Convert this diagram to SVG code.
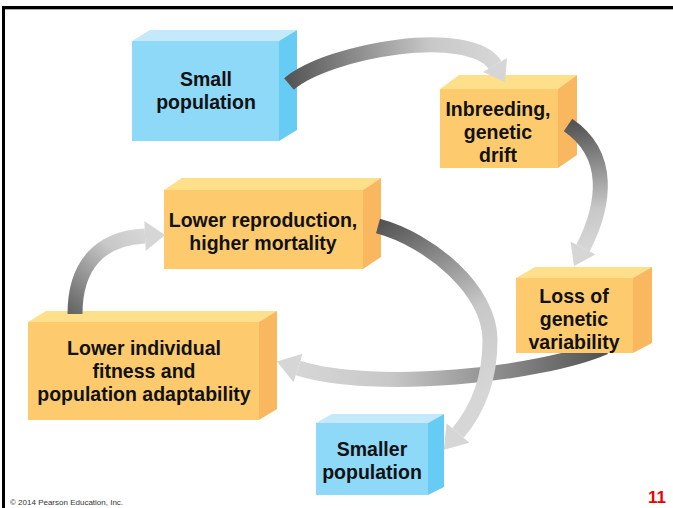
<svg xmlns="http://www.w3.org/2000/svg" width="673" height="508" viewBox="0 0 673 508">
<defs>
<style>
.bf{fill:#8ed8f8}.bt{fill:#c4e9fb}.bs{fill:#66ccf4}
.of{fill:#fdcb6e}.ot{fill:#fedf8a}.os{fill:#f9b860}
.lbl{font-family:"Liberation Sans",Arial,sans-serif;font-weight:bold;font-size:19.5px;fill:#111;text-anchor:middle}
.body{fill:none;stroke-width:15}
.head{fill:#d6d6d6}
</style>
<linearGradient id="g1" gradientUnits="userSpaceOnUse" x1="289" y1="84" x2="495" y2="65"><stop offset="0" stop-color="#555"/><stop offset="0.7" stop-color="#c8c8c8"/><stop offset="1" stop-color="#d6d6d6"/></linearGradient>
<linearGradient id="g2" gradientUnits="userSpaceOnUse" x1="568" y1="125" x2="583" y2="248"><stop offset="0" stop-color="#555"/><stop offset="0.7" stop-color="#c8c8c8"/><stop offset="1" stop-color="#d6d6d6"/></linearGradient>
<linearGradient id="g3" gradientUnits="userSpaceOnUse" x1="600" y1="350" x2="298" y2="368"><stop offset="0" stop-color="#555"/><stop offset="0.7" stop-color="#c8c8c8"/><stop offset="1" stop-color="#d6d6d6"/></linearGradient>
<linearGradient id="g4" gradientUnits="userSpaceOnUse" x1="378" y1="226" x2="470" y2="400"><stop offset="0" stop-color="#555"/><stop offset="0.6" stop-color="#c8c8c8"/><stop offset="1" stop-color="#d6d6d6"/></linearGradient>
<linearGradient id="g5" gradientUnits="userSpaceOnUse" x1="75" y1="314" x2="145" y2="236"><stop offset="0" stop-color="#666"/><stop offset="0.7" stop-color="#c8c8c8"/><stop offset="1" stop-color="#d6d6d6"/></linearGradient>
</defs>
<rect x="0" y="0" width="673" height="508" fill="#fff"/>
<rect x="2" y="6" width="671" height="3" fill="#000"/>
<rect x="5" y="9" width="668" height="1" fill="#aaa"/>
<rect x="2" y="6" width="3" height="502" fill="#000"/>

<g id="small-population">
<polygon class="bt" points="132,41 150,30 297,30 279,41"/>
<polygon class="bs" points="279,41 297,30 297,130 279,141"/>
<rect class="bf" x="132" y="41" width="147" height="100"/>
<text class="lbl" x="206" y="86">Small</text>
<text class="lbl" x="206" y="109">population</text>
</g>
<g id="inbreeding">
<polygon class="ot" points="440,89 459,75 577,75 558,89"/>
<polygon class="os" points="558,89 577,75 577,155 558,168"/>
<rect class="of" x="440" y="89" width="118" height="79"/>
<text class="lbl" x="498" y="116">Inbreeding,</text>
<text class="lbl" x="498" y="139">genetic</text>
<text class="lbl" x="498" y="162">drift</text>
</g>
<g id="lower-reproduction">
<polygon class="ot" points="164,190 182,178 381,178 363,190"/>
<polygon class="os" points="363,190 381,178 381,257 363,269"/>
<rect class="of" x="164" y="190" width="199" height="79"/>
<text class="lbl" x="263" y="227">Lower reproduction,</text>
<text class="lbl" x="263" y="250">higher mortality</text>
</g>
<g id="lower-individual">
<polygon class="ot" points="28,322 46,311 277,311 259,322"/>
<polygon class="os" points="259,322 277,311 277,409 259,420"/>
<rect class="of" x="28" y="322" width="231" height="98"/>
<text class="lbl" x="144" y="355">Lower individual</text>
<text class="lbl" x="144" y="378">fitness and</text>
<text class="lbl" x="144" y="401">population adaptability</text>
</g>
<g id="smaller-population">
<polygon class="bt" points="316,423 332,414 444,414 428,423"/>
<polygon class="bs" points="428,423 444,414 444,487 428,495"/>
<rect class="bf" x="316" y="423" width="112" height="72"/>
<text class="lbl" x="372" y="456">Smaller</text>
<text class="lbl" x="372" y="479">population</text>
</g>

<g id="connectors">
<path class="body" stroke="url(#g1)" d="M289,84 C329,50 470,26 495,65"/>
<polygon class="head" points="507,58 483,72 505,82"/>
<path class="body" stroke="url(#g2)" d="M568,125 C612,155 605,205 583,248"/>
<polygon class="head" points="595.5,254.4 570.5,241.6 574,266"/>
<path class="body" stroke="url(#g3)" d="M605,347 C540,375 374,392 298,368"/>
<polygon class="head" points="293.5,382.3 302.5,353.7 277,361.4"/>
<path class="body" stroke="url(#g4)" d="M378,226 C430,240 490,290 490,340 C490,385 474,414 458,433"/>
<polygon class="head" points="469.5,442.7 446.5,423.3 443.8,449.8"/>
<path class="body" stroke="url(#g5)" d="M75,314 C75,265 100,238 145,236"/>
<polygon class="head" points="145.7,251 144.3,221 165,235"/>
</g>

<g id="loss-of-variability">
<polygon class="ot" points="516,278 535,267 652,267 633,278"/>
<polygon class="os" points="633,278 652,267 652,343 633,353"/>
<rect class="of" x="516" y="278" width="117" height="75"/>
<text class="lbl" x="574" y="303">Loss of</text>
<text class="lbl" x="574" y="326">genetic</text>
<text class="lbl" x="574" y="349">variability</text>
</g>

<text x="10" y="505" font-family="Liberation Sans,Arial,sans-serif" font-size="8" fill="#333">© 2014 Pearson Education, Inc.</text>
<text x="648" y="503" font-family="Liberation Sans,Arial,sans-serif" font-size="17" font-weight="bold" fill="#e00">11</text>
</svg>
